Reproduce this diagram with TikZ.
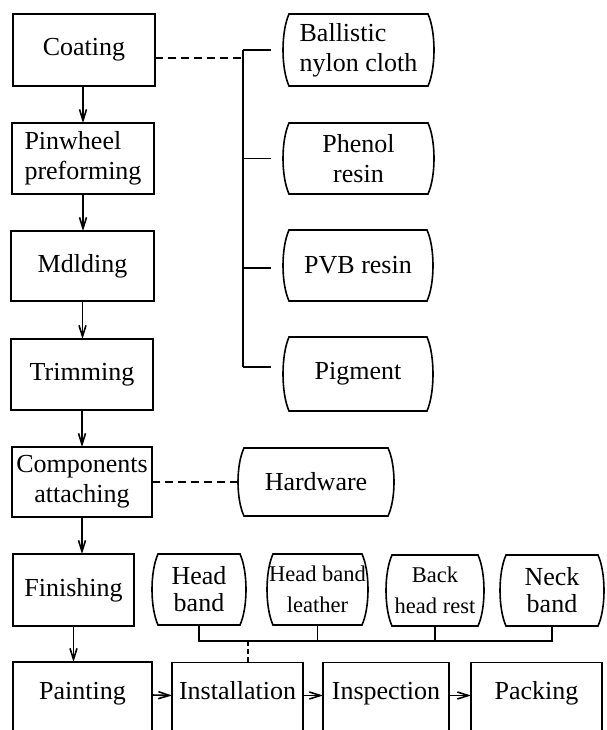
\documentclass[tikz,border=0pt]{standalone}
\usepackage{fontspec}
\setmainfont{Liberation Serif}
\usetikzlibrary{arrows.meta,calc}

\tikzset{
  every node/.style={inner sep=0pt, outer sep=0pt},
  lines/.style={line width=1.6pt},
  txt/.style={font=\fontsize{26}{30}\selectfont, align=center},
  small/.style={font=\fontsize{22.5}{31}\selectfont, align=center},
  tight/.style={font=\fontsize{26}{27}\selectfont, align=center},
  procbox/.style={txt, draw, lines, minimum width=#1, minimum height=71pt},
  lowbox/.style={procbox=#1, minimum height=72pt, text height=18pt, text depth=16pt},
  matbox/.style={minimum width=#1, minimum height=71pt},
  flow/.style={lines, -{Straight Barb[length=11pt,width=7pt,line width=1.6pt]}},
  link/.style={lines, dashed, dash pattern=on 8pt off 5pt},
}

\begin{document}
\begin{tikzpicture}[x=1pt, y=-1pt]
  \useasboundingbox (0,0) rectangle (606,730);

  % main process column
  \node[procbox=142pt, minimum height=72pt] (coat) at (84,50) {Coating};
  \node[procbox=142pt, align=left] (pin) at (83,158.5) {Pinwheel\\preforming};
  \node[procbox=143pt, minimum height=70pt] (mold) at (82.5,266) {Mdlding};
  \node[procbox=142pt] (trim) at (82,374.5) {Trimming};
  \node[procbox=140pt, minimum height=70pt] (comp) at (82,482) {Components\\attaching};
  \node[procbox=121pt, minimum height=72pt] (fin) at (73.5,590) {Finishing};

  % final row, running off the lower edge
  \node[lowbox=139pt] (paint) at (82.5,698) {Painting};
  \node[lowbox=131pt] (inst) at (237.5,698.5) {Installation};
  \node[lowbox=126pt] (insp) at (386,698.5) {Inspection};
  \node[lowbox=131pt] (pack) at (536.5,698.5) {Packing};

  % raw materials
  \node[matbox=151pt, minimum height=72pt, txt, align=left] (ball) at (358.5,50) {Ballistic\\nylon cloth};
  \node[matbox=151pt, txt] (phen) at (358.5,158.5) {Phenol\\resin};
  \node[matbox=150pt, txt] (pvb) at (358,265.5) {PVB resin};
  \node[matbox=150pt, minimum height=74pt, txt] (pig) at (358,374) {Pigment};
  \node[matbox=156pt, minimum height=68pt, txt] (hw) at (316,482) {Hardware};

  % fittings
  \node[matbox=94pt, tight] (hb) at (199,589.5) {Head\\band};
  \node[matbox=101pt, small] (hbl) at (317.5,589.5) {Head band\\leather};
  \node[matbox=98pt, small] (bhr) at (435,590.5) {Back\\head rest};
  \node[matbox=104pt, tight] (nb) at (552,590.5) {Neck\\band};

  % barrel outlines of the material boxes
  \foreach \n in {ball,phen,pvb,pig,hw,hb,hbl,bhr,nb}{
    \draw[lines] ([xshift=6pt]\n.north west) -- ([xshift=-6pt]\n.north east)
      .. controls ($(\n.north east)!0.25!(\n.south east)+(2pt,0pt)$)
             and ($(\n.north east)!0.75!(\n.south east)+(2pt,0pt)$)
      .. ([xshift=-6pt]\n.south east)
      -- ([xshift=6pt]\n.south west)
      .. controls ($(\n.south west)!0.25!(\n.north west)+(-2pt,0pt)$)
             and ($(\n.south west)!0.75!(\n.north west)+(-2pt,0pt)$)
      .. cycle;
  }

  % process flow
  \draw[flow] (coat.south -| pin.north) -- (pin.north);
  \draw[flow] (pin.south) -- (pin.south |- mold.north);
  \draw[flow] (mold.south) -- (mold.south |- trim.north);
  \draw[flow] (trim.south) -- (trim.south |- comp.north);
  \draw[flow] (comp.south) -- (comp.south |- fin.north);
  \draw[flow] (fin.south) -- (fin.south |- paint.north);
  \draw[flow] ([yshift=3pt]paint.east) -- ([yshift=3pt]inst.west);
  \draw[flow] ([yshift=3pt]inst.east) -- ([yshift=3pt]insp.west);
  \draw[flow] ([yshift=3pt]insp.east) -- ([yshift=3pt]pack.west);

  % material bracket
  \coordinate (bt) at (243,50);
  \coordinate (bb) at (243,367);
  \draw[lines] (bt) -- (bb);
  \draw[lines, shorten >=12pt] (bt) -- (ball.west);
  \draw[lines, shorten >=12pt] (bt |- phen.west) -- (phen.west);
  \draw[lines, shorten >=12pt] (243,268) -- (243,268 -| pvb.west);
  \draw[lines, shorten >=12pt] (bb) -- (bb -| pig.west);
  \draw[link] ([yshift=-8pt]coat.east) -- ([yshift=-8pt]coat.east -| bt);

  % hardware
  \draw[link] (comp.east) -- (hw.west);

  % fittings bus
  \coordinate (bus) at (0,641);
  \coordinate (bj) at (248,641);
  \draw[lines] (hb.south) -- (hb.south |- bus) -- (nb.south |- bus) -- (nb.south);
  \draw[lines] (hbl.south) -- (hbl.south |- bus);
  \draw[lines] (bhr.south) -- (bhr.south |- bus);
  \draw[link, dash pattern=on 5pt off 3pt] (bj) -- (bj |- inst.north);
\end{tikzpicture}
\end{document}
